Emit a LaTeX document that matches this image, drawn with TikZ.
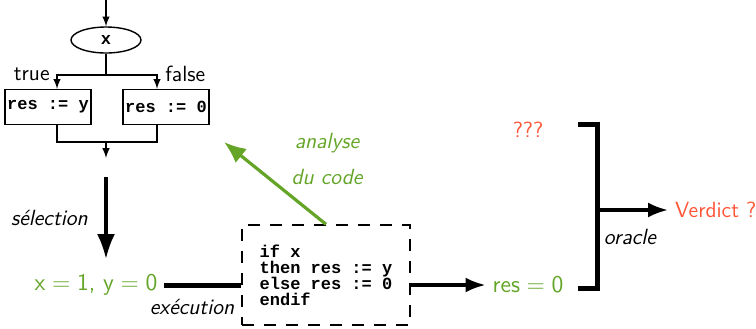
\documentclass[tikz,border=0pt]{standalone}
\usepackage{fontspec}
\setmonofont{Liberation Mono}
\usetikzlibrary{shapes.geometric,arrows.meta}

\definecolor{codegreen}{RGB}{100,165,40}
\definecolor{verdictred}{RGB}{255,85,55}

\tikzset{
    flowbox/.style={draw, line width=0.7pt, minimum width=42pt, minimum height=17.5pt,
        inner sep=1pt, font=\fontsize{8.5}{10}\selectfont\ttfamily\bfseries},
    flowline/.style={line width=0.7pt},
    bigarrow/.style={line width=1.6pt, -{Latex[length=10pt,width=7.5pt]}},
    comment/.style={font=\fontsize{11}{13}\selectfont\sffamily\itshape},
    value/.style={codegreen, font=\fontsize{12}{14}\selectfont\sffamily},
}

\begin{document}
\begin{tikzpicture}[x=0.5pt, y=-0.5pt, >=latex, font=\fontsize{11}{13}\selectfont\sffamily]
        \useasboundingbox (0,0) rectangle (756,328);

        % ==== FLOWCHART ====
        \node[draw, ellipse, line width=0.7pt, minimum width=35pt, minimum height=13pt,
            inner sep=0pt, font=\fontsize{8.5}{10}\selectfont\ttfamily\bfseries] (test) at (106,40) {x};
        \coordinate (in) at (106,0);
        \node[flowbox] (then) at (48,107) {res := y};
        \node[flowbox] (else) at (166,107) {res := 0};
        \coordinate (split) at (106,75);
        \coordinate (join) at (106,142);
        \coordinate (out) at (106,158);
        \coordinate (thenin) at ([xshift=4.5pt]then.north);
        \coordinate (elsein) at ([xshift=-4.5pt]else.north);

        \draw[flowline, ->] (in) -- (test.north);
        \draw[flowline] (test.south) -- (split);
        \draw[flowline, ->] (split) -| (thenin);
        \draw[flowline, ->] (split) -| (elsein);
        \draw[flowline] (then.south -| thenin) |- (join) -| (else.south -| elsein);
        \draw[flowline, ->] (join) -- (out);

        \node[anchor=east, inner sep=1pt] (true) at (52,74) {true};
        \node[anchor=west, inner sep=1pt] (false) at (163,74) {false};

        % ==== SELECTION ====
        \coordinate (sel) at (106,177);
        \node[value] (input) at (96,285) {$\mathsf{x} = \mathsf{1}$, $\mathsf{y} = \mathsf{0}$};
        \draw[line width=1.6pt, -{Latex[length=12.5pt,width=9pt]}] (sel) -- (106,259)
            node[midway, left=5pt, black, comment] (sellabel) {sélection};

        % ==== CODE ====
        \node[draw, dash pattern=on 6pt off 5pt, line width=0.7pt, minimum width=84pt,
            minimum height=50pt, align=left, inner sep=0pt,
            font=\fontsize{8.5}{8}\selectfont\ttfamily\bfseries] (code) at (326,275)
            {if x\\then res := y\\else res := 0\\endif};

        \draw[line width=2.5pt] (input.east) -- (code.west |- input.east);
        \node[comment] (exec) at (192,307) {exécution};

        % ==== ANALYSE ====
        \draw[codegreen, line width=1.6pt, -{Latex[length=11pt,width=9pt]}] (code.north) -- (224,142);
        \node[codegreen, comment] (analyse) at (327,143) {analyse};
        \node[codegreen, comment] (ducode) at (327,177) {du code};

        % ==== RESULT ====
        \node[value] (res) at (528,285) {$\mathsf{res} = \mathsf{0}$};
        \draw[bigarrow] (code.east |- res) -- (res.west);
        \node[verdictred] (expected) at (528,130) {???};

        % ==== ORACLE ====
        \coordinate (btop) at (578,124);
        \coordinate (bbot) at (578,288);
        \draw[line width=2.5pt] (btop) -| (597,210) |- (bbot);
        \coordinate (bmid) at (597,210);
        \node[verdictred, anchor=west] (verdict) at (668,210) {Verdict ?};
        \draw[bigarrow] (bmid) -- (verdict.west);
        \node[comment] (oracle) at (630,237) {oracle};

    \end{tikzpicture}
\end{document}
